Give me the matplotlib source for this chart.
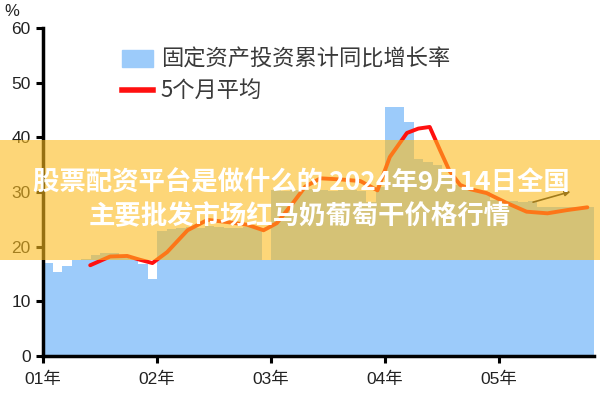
import numpy as np
import matplotlib
matplotlib.use("Agg")
import matplotlib.pyplot as plt
from matplotlib.patches import Patch, Rectangle
from matplotlib.lines import Line2D

plt.rcParams['font.family'] = ['Liberation Sans', 'Noto Sans CJK SC', 'DejaVu Sans']

# monthly cumulative yoy growth (%), one bar per month
growth = [17.0, 15.4, 16.5, 17.5, 17.8, 18.5, 18.8, 18.8, 18.0, 17.8, 16.8, 14.0,
          22.8, 23.2, 23.5, 23.6, 23.5, 23.7, 23.6, 23.5, 23.4, 23.6, 23.5, 17.5,
          30.3, 30.2, 30.4, 30.3, 30.5, 30.3, 30.2, 30.4, 30.3, 30.2, 28.2, 31.0,
          45.5, 45.5, 42.8, 36.0, 35.5, 35.0, 33.0, 31.3, 30.5, 30.3, 30.0, 28.5,
          28.3, 28.3, 28.2, 28.3, 27.3, 27.3, 27.2, 27.3, 27.3, 27.3]

# 5-month moving average (month position, value)
avg_x = [4.95, 7.05, 8.84, 10.2, 11.5, 13.05, 15.2, 17.3, 19.4, 21.5, 23.2, 24.6,
         26.3, 27.6, 29.2, 31.3, 33.4, 35.2, 36.5, 38.3, 39.5, 40.7, 41.8, 42.8,
         43.9, 45.0, 46.7, 48.8, 50.9, 53.1, 55.2, 57.3]
avg_y = [16.6, 18.2, 18.3, 17.6, 17.0, 19.0, 23.0, 24.9, 24.5, 24.0, 23.0, 24.3,
         28.0, 31.0, 32.5, 32.3, 32.0, 30.3, 36.4, 40.8, 41.6, 41.9, 37.6, 33.8,
         31.3, 30.5, 29.8, 28.0, 26.4, 26.1, 26.7, 27.2]

year_ticks = [0, 12, 24, 36, 48]
year_labels = ["01年", "02年", "03年", "04年", "05年"]

fig = plt.figure(figsize=(6, 4), dpi=100)
ax = fig.add_axes([0.072, 0.11, 0.918, 0.82])

months = np.arange(len(growth))
ax.bar(months, growth, width=1.0, align='edge', color='#9ccbfa', linewidth=0)
ax.plot(avg_x, avg_y, color='#ff1010', linewidth=2.8, solid_capstyle='round')
ax.annotate("", xy=(55.8, 30.2), xytext=(51.3, 28.0),
            arrowprops=dict(arrowstyle='-|>', color='#1a1a1a', lw=1.2,
                            mutation_scale=8))

ax.set_xlim(0, len(growth))
ax.set_ylim(0, 60)
ax.set_yticks(range(0, 61, 10))
ax.set_xticks(year_ticks)
ax.set_xticklabels(year_labels)
for s in ['top', 'right']:
    ax.spines[s].set_visible(False)
for s in ['left', 'bottom']:
    ax.spines[s].set_linewidth(2.5)
ax.tick_params(axis='both', length=5, width=2.2, labelsize=12.5, colors='black')
ax.tick_params(axis='y', labelcolor='#222222', pad=4)
ax.tick_params(axis='x', labelcolor='#222222', pad=6)

fig.text(0.008, 0.972, "%", fontsize=12, color='#222222', ha='left', va='center')

handles = [Patch(color='#9ccbfa'), Line2D([0], [0], color='#ff1010', lw=4)]
labels = ["固定资产投资累计同比增长率", "5个月平均"]
ax.legend(handles, labels, loc='upper left', bbox_to_anchor=(0.17, 0.93),
          bbox_transform=fig.transFigure, frameon=False,
          handlelength=1.4, handleheight=0.8, handletextpad=0.35,
          labelspacing=0.42, labelcolor='#3a3a3a',
          prop={'family': ['Noto Sans CJK SC'], 'size': 16})

# overlay banner
fig.patches.append(Rectangle((0, 0.35), 1, 0.3, transform=fig.transFigure,
                             facecolor='#fcbc1e', alpha=0.6, linewidth=0, zorder=5))
fig.text(0.502, 0.543, "股票配资平台是做什么的 2024年9月14日全国", fontsize=19,
         fontweight='bold', color='white', ha='center', va='center', zorder=6,
         family=['Noto Sans CJK SC'])
fig.text(0.5, 0.458, "主要批发市场红马奶葡萄干价格行情", fontsize=19,
         fontweight='bold', color='white', ha='center', va='center', zorder=6,
         family=['Noto Sans CJK SC'])

fig.savefig("out.png", dpi=100)
